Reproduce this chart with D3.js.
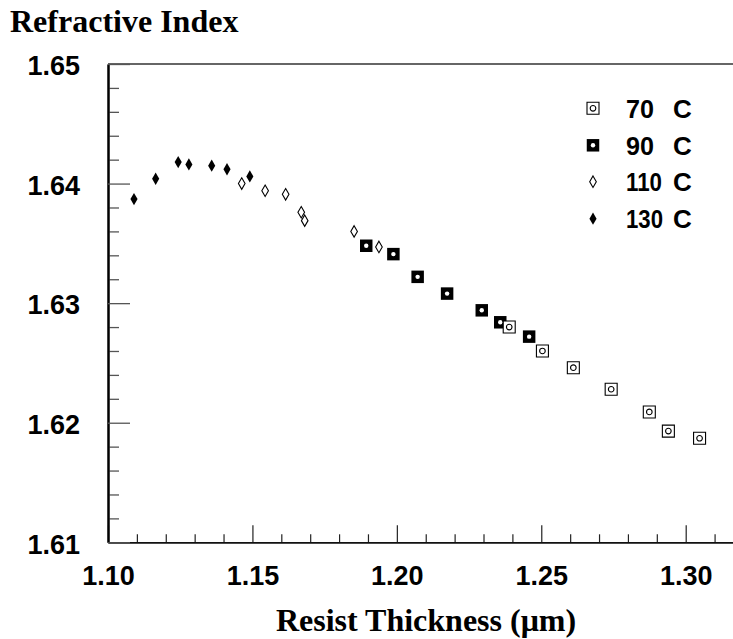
<!DOCTYPE html>
<html>
<head>
<meta charset="utf-8">
<script src="https://cdn.jsdelivr.net/npm/d3@7/dist/d3.min.js"></script>
<style>
  html, body { margin: 0; padding: 0; background: #fff; }
  svg { display: block; }
</style>
</head>
<body>
<script>
// Refractive index vs. resist thickness for four bake temperatures
const seriesNames = ["70  C", "90  C", "110  C", "130  C"];

const thk70 = [1.2389, 1.2504, 1.2611, 1.2742, 1.2874, 1.2940, 1.3048];
const n70   = [1.6280, 1.6260, 1.6246, 1.6228, 1.6209, 1.6193, 1.6187];

const thk90 = [1.1894, 1.1988, 1.2072, 1.2174, 1.2294, 1.2358, 1.2458];
const n90   = [1.6348, 1.6341, 1.6322, 1.6308, 1.6294, 1.6284, 1.6272];

const thk110 = [1.1463, 1.1544, 1.1615, 1.1669, 1.1681, 1.1852, 1.1938];
const n110   = [1.6400, 1.6394, 1.6391, 1.6376, 1.6369, 1.6360, 1.6347];

const thk130 = [1.1090, 1.1165, 1.1243, 1.1280, 1.1359, 1.1412, 1.1491];
const n130   = [1.6387, 1.6404, 1.6418, 1.6416, 1.6415, 1.6412, 1.6406];

const xMajorTicks = [1.10, 1.15, 1.20, 1.25, 1.30];
const xMinorTicks = [1.11, 1.12, 1.13, 1.14, 1.16, 1.17, 1.18, 1.19, 1.21, 1.22, 1.23, 1.24, 1.26, 1.27, 1.28, 1.29, 1.31];
const yMajorTicks = [1.61, 1.62, 1.63, 1.64, 1.65];
const yMinorTicks = [1.612, 1.614, 1.616, 1.618, 1.622, 1.624, 1.626, 1.628,
                     1.632, 1.634, 1.636, 1.638, 1.642, 1.644, 1.646, 1.648];

(function () {
  const W = 733, H = 639;
  const plotLeft = 108, plotTop = 64, plotBottom = 542.3;

  const svg = d3.select("body").append("svg")
    .attr("width", W).attr("height", H)
    .style("background", "#fff");

  const x = d3.scaleLinear().domain([1.10, 1.32]).range([plotLeft, plotLeft + 2888.5 * 0.22]);
  const y = d3.scaleLinear().domain([1.61, 1.65]).range([plotBottom, plotTop]);

  const numFont = "'Liberation Sans', Arial, Helvetica, sans-serif";
  const serif = "'Liberation Serif', 'Times New Roman', serif";

  // top frame line
  svg.append("line")
    .attr("x1", plotLeft).attr("x2", W).attr("y1", plotTop).attr("y2", plotTop)
    .attr("stroke", "#333").attr("stroke-width", 1.3);

  // x axis: minor ticks, then major ticks with labels
  const gxMinor = svg.append("g").attr("transform", `translate(0,${plotBottom})`)
    .call(d3.axisBottom(x).tickValues(xMinorTicks).tickSize(-8).tickSizeOuter(0).tickFormat(""));
  const gx = svg.append("g").attr("transform", `translate(0,${plotBottom})`)
    .call(d3.axisBottom(x).tickValues(xMajorTicks).tickSize(-17).tickSizeOuter(0)
      .tickPadding(24).tickFormat(d3.format(".2f")));

  // y axis
  const gyMinor = svg.append("g").attr("transform", `translate(${plotLeft},0)`)
    .call(d3.axisLeft(y).tickValues(yMinorTicks).tickSize(-11).tickSizeOuter(0).tickFormat(""));
  const gy = svg.append("g").attr("transform", `translate(${plotLeft},0)`)
    .call(d3.axisLeft(y).tickValues(yMajorTicks).tickSize(-22).tickSizeOuter(0)
      .tickPadding(28).tickFormat(d3.format(".2f")));

  [gxMinor, gx].forEach(g => {
    g.select(".domain").attr("stroke", "#111").attr("stroke-width", 1.6);
    g.selectAll(".tick line").attr("stroke", "#222").attr("stroke-width", 1.2);
  });
  [gyMinor, gy].forEach(g => {
    g.select(".domain").attr("stroke", "#000").attr("stroke-width", 2);
    g.selectAll(".tick line").attr("stroke", "#555").attr("stroke-width", 1.3);
  });
  [gx, gy].forEach(g => {
    g.selectAll(".tick text")
      .attr("fill", "#000")
      .style("font-family", numFont)
      .style("font-weight", "bold")
      .style("font-size", "27px");
  });
  gy.selectAll(".tick text").attr("dy", "0.4em");

  // titles
  svg.append("text")
    .attr("x", 10).attr("y", 32)
    .style("font-family", serif).style("font-weight", "bold").style("font-size", "32px")
    .text("Refractive Index");

  svg.append("text")
    .attr("x", 426).attr("y", 631).attr("text-anchor", "middle")
    .style("font-family", serif).style("font-weight", "bold").style("font-size", "32px")
    .text("Resist Thickness (μm)");

  // marker shapes
  const sq = d3.symbol().type(d3.symbolSquare).size(144)();
  const sqFilled = d3.symbol().type(d3.symbolSquare).size(156)();
  const diaOpen = d3.symbol().type(d3.symbolDiamond).size(38)();
  const diaFilled = d3.symbol().type(d3.symbolDiamond).size(44)();

  function drawMarker(g, kind) {
    if (kind === 0) {
      g.append("path").attr("d", sq).attr("fill", "#fff").attr("stroke", "#000").attr("stroke-width", 1.1);
      g.append("circle").attr("r", 2.8).attr("fill", "none").attr("stroke", "#000").attr("stroke-width", 1.1);
    } else if (kind === 1) {
      g.append("path").attr("d", sqFilled).attr("fill", "#000");
      g.append("circle").attr("r", 2.2).attr("fill", "#fff");
    } else if (kind === 2) {
      g.append("path").attr("d", diaOpen).attr("fill", "#fff").attr("stroke", "#000").attr("stroke-width", 1.1);
    } else {
      g.append("path").attr("d", diaFilled).attr("fill", "#000");
    }
  }

  const series = [
    { xs: thk70, ys: n70 },
    { xs: thk90, ys: n90 },
    { xs: thk110, ys: n110 },
    { xs: thk130, ys: n130 }
  ];

  // draw order: 130, 110, 90, 70
  [3, 2, 1, 0].forEach(k => {
    const s = series[k];
    s.xs.forEach((xv, i) => {
      const g = svg.append("g").attr("transform", `translate(${x(xv)},${y(s.ys[i])})`);
      drawMarker(g, k);
    });
  });

  // legend: numbers set slightly narrow, with the "C" in a common column
  const legendRows = [108.3, 145.3, 181.7, 218.7];
  const numberWidths = [28, 28, 36, 37];
  seriesNames.forEach((name, k) => {
    const g = svg.append("g").attr("transform", `translate(593,${legendRows[k]})`);
    drawMarker(g, k);
    const parts = name.split(/\s+/);
    const t = svg.append("text")
      .attr("y", legendRows[k] + 9.5)
      .style("font-family", numFont).style("font-weight", "bold").style("font-size", "26px");
    t.append("tspan").attr("x", 626).text(parts[0])
      .attr("textLength", numberWidths[k]).attr("lengthAdjust", "spacingAndGlyphs");
    t.append("tspan").attr("x", 673).text(parts[1]);
  });
})();
</script>
</body>
</html>
